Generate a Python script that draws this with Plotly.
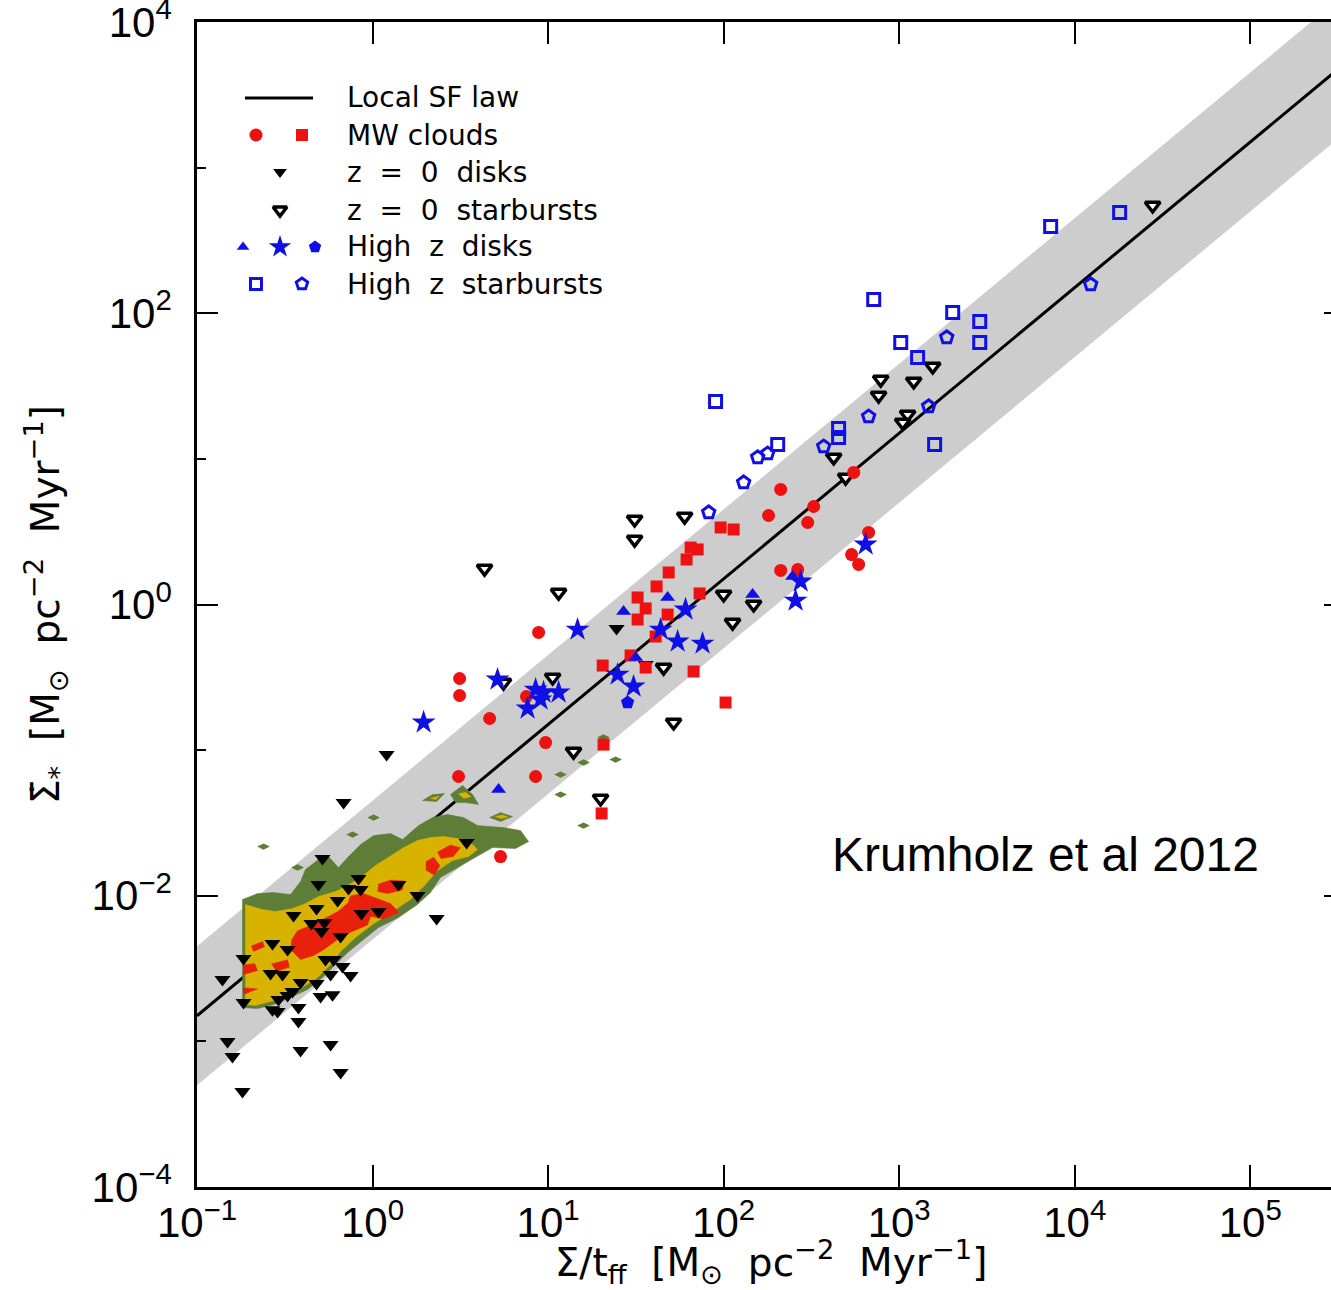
import plotly.graph_objects as go

# ---------------- data (log10 values) ----------------
# Local star-formation law: Sigma_SFR = eps_ff * Sigma / t_ff, band = factor 3
EPS_FF = 0.015
BAND_FACTOR = 3.0
LAW_X = [0.1, 10 ** 5.7]

# z = 0 disks (filled black down-triangles)
Z0D_LX = [-0.165, 0.080, -0.285, 0.536, -0.308, -0.080, -0.068, -0.137, -0.199, 0.148,
          0.256, -0.319, -0.450, -0.063, 0.034, -0.348, -0.274, -0.291, 0.365, -0.182,
          -0.570, -0.484, -0.735, -0.268, -0.222, -0.171, -0.125, -0.581, -0.513, -0.239,
          -0.855, -0.319, -0.410, -0.456, -0.484, -0.536, -0.296, -0.228, -0.735, -0.570,
          -0.541, -0.422, -0.422, -0.826, -0.798, -0.410, -0.239, -0.182, -0.741, 1.390, 1.556]
Z0D_LY = [-1.360, -1.030, -1.744, -1.635, -1.923, -1.882, -1.957, -1.950, -2.033, -1.923,
          -1.999, -2.088, -2.136, -2.122, -2.108, -2.191, -2.184, -2.246, -2.157, -2.280,
          -2.328, -2.369, -2.431, -2.438, -2.438, -2.486, -2.548, -2.534, -2.541, -2.541,
          -2.575, -2.603, -2.596, -2.658, -2.685, -2.713, -2.692, -2.679, -2.733, -2.782,
          -2.795, -2.768, -2.864, -3.001, -3.104, -3.063, -3.022, -3.214, -3.345, -0.165, -0.412]

# z = 0 starbursts (open black down-triangles)
Z0S_LX = [0.638, 1.060, 1.026, 0.746, 1.145, 1.299, 1.493, 1.493, 1.778, 1.658, 1.715, 2.000,
          2.171, 2.051, 2.627, 2.695, 2.895, 2.883, 3.083, 3.191, 3.048, 3.020, 4.444]
Z0S_LY = [0.247, 0.082, -0.501, -0.536, -1.010, -1.332, 0.584, 0.446, 0.604, -0.433, -0.810, 0.069,
          0.000, -0.124, 1.010, 0.872, 1.545, 1.435, 1.532, 1.635, 1.305, 1.250, 2.740]

# MW clouds: squares and circles
MWS_LX = [1.983, 2.057, 1.812, 1.852, 1.789, 1.687, 1.618, 1.510, 1.556, 1.510, 1.681, 1.863,
          1.613, 1.470, 1.311, 1.556, 1.829, 2.011, 1.316, 1.305]
MWS_LY = [0.529, 0.515, 0.391, 0.378, 0.309, 0.220, 0.124, 0.048, -0.027, -0.103, -0.069, 0.076,
          -0.220, -0.350, -0.419, -0.433, -0.460, -0.673, -0.962, -1.435]
MWC_LX = [0.496, 0.496, 0.667, 0.877, 0.946, 0.986, 0.490, 0.929, 0.729, 2.325, 2.256, 2.513,
          2.479, 2.741, 2.325, 2.422, 2.729, 2.769, 2.826]
MWC_LY = [-0.508, -0.625, -0.783, -0.632, -0.192, -0.948, -1.181, -1.181, -1.731, 0.790, 0.611,
          0.673, 0.563, 0.907, 0.234, 0.240, 0.343, 0.275, 0.495]

# High-z disks: triangles, stars, pentagon
HZT_LX = [1.430, 1.681, 1.499, 2.165, 2.393, 0.718]
HZT_LY = [-0.048, 0.048, -0.364, 0.069, 0.192, -1.271]
HZSTAR_LX = [1.168, 1.783, 1.641, 1.738, 1.880, 1.396, 1.487, 0.712, 0.974, 1.060, 0.957, 0.929,
             0.883, 0.291, 2.439, 2.410, 2.809]
HZSTAR_LY = [-0.172, -0.034, -0.172, -0.254, -0.268, -0.481, -0.563, -0.515, -0.604, -0.604,
             -0.652, -0.584, -0.714, -0.810, 0.158, 0.027, 0.412]
HZP_LX = [1.453]
HZP_LY = [-0.673]

# High-z starbursts: open squares and open pentagons
HSBS_LX = [3.863, 4.256, 2.855, 3.305, 3.459, 3.459, 3.009, 3.105, 1.954, 2.308, 2.655, 2.655, 3.202]
HSBS_LY = [2.596, 2.692, 2.095, 2.005, 1.944, 1.799, 1.799, 1.696, 1.394, 1.099, 1.209, 1.147, 1.099]
HSBP_LX = [4.091, 3.271, 3.168, 2.826, 2.570, 2.251, 2.194, 2.114, 1.915]
HSBP_LY = [2.198, 1.834, 1.360, 1.291, 1.085, 1.037, 1.010, 0.838, 0.632]

# THINGS pixel-density contours (log10 x, log10 y vertices)
GREEN_MAIN = [(-0.741, -2.768), (-0.741, -2.026), (-0.655, -1.985), (-0.564, -1.978), (-0.467, -1.992),
              (-0.410, -1.902), (-0.382, -1.820), (-0.308, -1.751), (-0.251, -1.731), (-0.194, -1.806),
              (-0.142, -1.738), (-0.068, -1.648), (0.006, -1.587), (0.103, -1.573), (0.171, -1.614),
              (0.262, -1.518), (0.342, -1.463), (0.427, -1.442), (0.519, -1.463), (0.598, -1.518),
              (0.672, -1.525), (0.746, -1.532), (0.843, -1.552), (0.889, -1.628), (0.815, -1.676),
              (0.684, -1.669), (0.604, -1.724), (0.501, -1.793), (0.387, -1.875), (0.330, -1.978),
              (0.256, -2.060), (0.148, -2.150), (0.034, -2.218), (-0.051, -2.301), (-0.142, -2.390),
              (-0.222, -2.486), (-0.285, -2.562), (-0.370, -2.644), (-0.467, -2.699), (-0.564, -2.747),
              (-0.655, -2.775)]
GREEN_BLOBS = [
    [(0.285, -1.346), (0.342, -1.305), (0.410, -1.298), (0.365, -1.353)],
    [(0.444, -1.305), (0.513, -1.243), (0.570, -1.305), (0.604, -1.374), (0.530, -1.360), (0.473, -1.360)],
    [(0.667, -1.463), (0.729, -1.429), (0.798, -1.456), (0.729, -1.490)],
]
GREEN_DOTS_LX = [0.006, -0.114, -0.427, 1.071, 1.071, 1.202, 1.385, 1.202, 1.316, -0.621]
GREEN_DOTS_LY = [-1.463, -1.580, -1.806, -1.168, -1.305, -1.085, -1.065, -1.518, -0.913, -1.662]

YELLOW_MAIN = [(-0.724, -2.747), (-0.724, -2.060), (-0.627, -2.095), (-0.553, -2.108), (-0.456, -2.088),
               (-0.382, -2.054), (-0.308, -2.005), (-0.211, -1.971), (-0.142, -1.930), (-0.068, -1.875),
               (0.017, -1.793), (0.103, -1.724), (0.177, -1.669), (0.256, -1.621), (0.330, -1.600),
               (0.405, -1.593), (0.484, -1.607), (0.558, -1.635), (0.598, -1.683), (0.547, -1.731),
               (0.456, -1.758), (0.370, -1.827), (0.291, -1.937), (0.217, -2.026), (0.103, -2.115),
               (0.000, -2.198), (-0.097, -2.287), (-0.182, -2.383), (-0.239, -2.472), (-0.313, -2.562),
               (-0.399, -2.630), (-0.484, -2.685), (-0.581, -2.727), (-0.667, -2.754)]
YELLOW_BLOBS = [
    [(0.330, -1.330), (0.380, -1.315), (0.360, -1.340)],
    [(0.490, -1.300), (0.530, -1.290), (0.560, -1.320), (0.520, -1.330)],
    [(0.700, -1.455), (0.740, -1.445), (0.770, -1.460), (0.730, -1.470)],
]

RED_POLYS = [
    [(-0.460, -2.301), (-0.427, -2.240), (-0.353, -2.205), (-0.279, -2.160), (-0.199, -2.110),
     (-0.140, -2.050), (-0.125, -2.000), (-0.051, -1.985), (0.028, -2.020), (0.103, -2.054),
     (0.150, -2.115), (0.063, -2.160), (-0.011, -2.140), (-0.028, -2.200), (-0.125, -2.250),
     (-0.199, -2.300), (-0.279, -2.370), (-0.336, -2.410), (-0.410, -2.438), (-0.466, -2.370)],
    [(0.034, -1.920), (0.103, -1.892), (0.180, -1.899), (0.170, -1.960), (0.085, -1.985), (0.030, -1.970)],
    [(0.305, -1.765), (0.348, -1.735), (0.384, -1.793), (0.352, -1.858), (0.305, -1.825)],
    [(0.370, -1.700), (0.444, -1.652), (0.500, -1.670), (0.460, -1.730), (0.390, -1.745)],
    [(-0.690, -2.345), (-0.627, -2.315), (-0.615, -2.350), (-0.678, -2.382)],
    [(-0.735, -2.475), (-0.672, -2.466), (-0.655, -2.514), (-0.735, -2.540)],
    [(-0.575, -2.468), (-0.484, -2.440), (-0.474, -2.490), (-0.547, -2.520)],
    [(-0.735, -2.632), (-0.655, -2.640), (-0.735, -2.678)],
]

X_TICKS = [1e-1, 1e0, 1e1, 1e2, 1e3, 1e4, 1e5]
X_TICKTEXT = ["10<sup>−1</sup>", "10<sup>0</sup>", "10<sup>1</sup>", "10<sup>2</sup>",
              "10<sup>3</sup>", "10<sup>4</sup>", "10<sup>5</sup>"]
Y_TICKS = [1e-4, 1e-2, 1e0, 1e2, 1e4]
Y_TICKTEXT = ["10<sup>−4</sup>", "10<sup>−2</sup>", "10<sup>0</sup>", "10<sup>2</sup>", "10<sup>4</sup>"]
Y_MINOR = [1e-3, 1e-1, 1e1, 1e3]

# ---------------- styling ----------------
RED = "#ee1111"
BLUE = "#1010e6"
GREEN = "#5e7d37"
YELLOW = "#d7b300"
RED_C = "#e8200c"
GRAY = "#cdcdcd"
TICK_FONT = dict(family="Liberation Sans", size=42, color="black")
TITLE_FONT = dict(family="DejaVu Sans", size=39, color="black")
LEG_FONT = dict(family="DejaVu Sans", size=28, color="black")

# The figure is a little wider than the window; the page clips its right edge
# (as in the reference, where the right axis lies just outside the picture).
FIG_W, FIG_H = 1345, 1290
M_L, M_T, M_B = 197, 22, 103
PLOT_W = FIG_W - M_L
X_MAX_LOG = -1 + PLOT_W / (1134 / 6.46)


def lin(vals):
    return [10 ** v for v in vals]


def poly(pts, color):
    xs = [10 ** p[0] for p in pts] + [10 ** pts[0][0]]
    ys = [10 ** p[1] for p in pts] + [10 ** pts[0][1]]
    return go.Scatter(x=xs, y=ys, mode="lines", fill="toself", fillcolor=color,
                      line=dict(width=0.5, color=color), hoverinfo="skip", showlegend=False)


fig = go.Figure()

# gray band around the law
bx = LAW_X + LAW_X[::-1]
by = [EPS_FF * BAND_FACTOR * x for x in LAW_X] + [EPS_FF / BAND_FACTOR * x for x in LAW_X[::-1]]
fig.add_trace(go.Scatter(x=bx, y=by, mode="lines", fill="toself", fillcolor=GRAY,
                         line=dict(width=0), hoverinfo="skip"))
# local SF law line
fig.add_trace(go.Scatter(x=LAW_X, y=[EPS_FF * x for x in LAW_X], mode="lines",
                         line=dict(color="black", width=3)))

# contours
fig.add_trace(poly(GREEN_MAIN, GREEN))
for b in GREEN_BLOBS:
    fig.add_trace(poly(b, GREEN))
fig.add_trace(go.Scatter(x=lin(GREEN_DOTS_LX), y=lin(GREEN_DOTS_LY), mode="markers",
                         marker=dict(symbol="diamond-wide", size=9, color=GREEN)))
fig.add_trace(poly(YELLOW_MAIN, YELLOW))
for b in YELLOW_BLOBS:
    fig.add_trace(poly(b, YELLOW))
for p in RED_POLYS:
    fig.add_trace(poly(p, RED_C))

# data points
fig.add_trace(go.Scatter(x=lin(Z0D_LX), y=lin(Z0D_LY), mode="markers",
                         marker=dict(symbol="triangle-down", size=14, color="black")))
fig.add_trace(go.Scatter(x=lin(Z0S_LX), y=lin(Z0S_LY), mode="markers",
                         marker=dict(symbol="triangle-down", size=13, color="white",
                                     line=dict(color="black", width=3.5))))
fig.add_trace(go.Scatter(x=lin(MWS_LX), y=lin(MWS_LY), mode="markers",
                         marker=dict(symbol="square", size=12, color=RED)))
fig.add_trace(go.Scatter(x=lin(MWC_LX), y=lin(MWC_LY), mode="markers",
                         marker=dict(symbol="circle", size=13, color=RED)))
fig.add_trace(go.Scatter(x=lin(HZT_LX), y=lin(HZT_LY), mode="markers",
                         marker=dict(symbol="triangle-up", size=13, color=BLUE)))
fig.add_trace(go.Scatter(x=lin(HZSTAR_LX), y=lin(HZSTAR_LY), mode="markers",
                         marker=dict(symbol="star", size=18, color=BLUE)))
fig.add_trace(go.Scatter(x=lin(HZP_LX), y=lin(HZP_LY), mode="markers",
                         marker=dict(symbol="pentagon", size=14, color=BLUE)))
fig.add_trace(go.Scatter(x=lin(HSBS_LX), y=lin(HSBS_LY), mode="markers",
                         marker=dict(symbol="square-open", size=12, color=BLUE,
                                     line=dict(color=BLUE, width=3))))
fig.add_trace(go.Scatter(x=lin(HSBP_LX), y=lin(HSBP_LY), mode="markers",
                         marker=dict(symbol="pentagon-open", size=13, color=BLUE,
                                     line=dict(color=BLUE, width=3))))

# ---------------- custom legend (axes x2/y2: 0..1 spans the visible plot area) ----------------
ROWS = [0.9348, 0.9030, 0.8712, 0.8386, 0.8069, 0.7751]
LEG_LABELS = ["Local SF law", "MW clouds", "z  =  0  disks", "z  =  0  starbursts",
              "High  z  disks", "High  z  starbursts"]
VIS = 1134 / PLOT_W   # fraction of the plot width that is visible in the window
leg = dict(xaxis="x2", yaxis="y2", hoverinfo="skip")
fig.add_trace(go.Scatter(x=[0.0423, 0.1023], y=[ROWS[0]] * 2, mode="lines",
                         line=dict(color="black", width=3), **leg))
fig.add_trace(go.Scatter(x=[0.0520], y=[ROWS[1]], mode="markers",
                         marker=dict(symbol="circle", size=13, color=RED), **leg))
fig.add_trace(go.Scatter(x=[0.0926], y=[ROWS[1]], mode="markers",
                         marker=dict(symbol="square", size=12, color=RED), **leg))
fig.add_trace(go.Scatter(x=[0.0732], y=[ROWS[2]], mode="markers",
                         marker=dict(symbol="triangle-down", size=12, color="black"), **leg))
fig.add_trace(go.Scatter(x=[0.0732], y=[ROWS[3]], mode="markers",
                         marker=dict(symbol="triangle-down", size=12, color="white",
                                     line=dict(color="black", width=3.5)), **leg))
fig.add_trace(go.Scatter(x=[0.0406], y=[ROWS[4]], mode="markers",
                         marker=dict(symbol="triangle-up", size=11, color=BLUE), **leg))
fig.add_trace(go.Scatter(x=[0.0732], y=[ROWS[4]], mode="markers",
                         marker=dict(symbol="star", size=17, color=BLUE), **leg))
fig.add_trace(go.Scatter(x=[0.1041], y=[ROWS[4]], mode="markers",
                         marker=dict(symbol="pentagon", size=13, color=BLUE), **leg))
fig.add_trace(go.Scatter(x=[0.0520], y=[ROWS[5]], mode="markers",
                         marker=dict(symbol="square-open", size=11, color=BLUE,
                                     line=dict(color=BLUE, width=3)), **leg))
fig.add_trace(go.Scatter(x=[0.0926], y=[ROWS[5]], mode="markers",
                         marker=dict(symbol="pentagon-open", size=12, color=BLUE,
                                     line=dict(color=BLUE, width=3)), **leg))

annotations = []
for r, t in zip(ROWS, LEG_LABELS):
    annotations.append(dict(x=0.1305 * VIS, y=r, xref="paper", yref="paper", text=t, showarrow=False,
                            xanchor="left", yanchor="middle", font=LEG_FONT))
annotations.append(dict(x=0.558 * VIS, y=0.285, xref="paper", yref="paper", text="Krumholz et al 2012",
                        showarrow=False, xanchor="left", yanchor="middle",
                        font=dict(family="Liberation Sans", size=48, color="black")))

fig.update_layout(
    width=FIG_W, height=FIG_H,
    margin=dict(l=M_L, r=0, t=M_T, b=M_B, autoexpand=False),
    plot_bgcolor="white", paper_bgcolor="white",
    showlegend=False,
    annotations=annotations,
    xaxis=dict(type="log", range=[-1, X_MAX_LOG], showgrid=False, zeroline=False,
               showline=True, linecolor="black", linewidth=2.5, mirror="allticks",
               ticks="inside", ticklen=22, tickwidth=2, tickcolor="black",
               tickmode="array", tickvals=X_TICKS, ticktext=X_TICKTEXT,
               tickfont=TICK_FONT, ticklabelstandoff=-3, ticklabeloverflow="allow",
               title=dict(text="Σ/t<sub>ff</sub>  [M<sub>⊙</sub>  pc<sup>−2</sup>  Myr<sup>−1</sup>]",
                          font=TITLE_FONT, standoff=5)),
    yaxis=dict(type="log", range=[-4, 4], showgrid=False, zeroline=False,
               showline=True, linecolor="black", linewidth=2.5, mirror="allticks",
               ticks="inside", ticklen=21, tickwidth=2, tickcolor="black",
               tickmode="array", tickvals=Y_TICKS, ticktext=Y_TICKTEXT,
               tickfont=TICK_FONT, ticklabelstandoff=14, ticklabeloverflow="allow",
               minor=dict(tickmode="array", tickvals=Y_MINOR, ticks="inside", ticklen=9,
                          tickwidth=2, tickcolor="black", showgrid=False),
               title=dict(text="Σ̇<sub>*</sub>  [M<sub>⊙</sub>  pc<sup>−2</sup>  Myr<sup>−1</sup>]",
                          font=TITLE_FONT, standoff=20)),
    xaxis2=dict(overlaying="x", anchor="y2", range=[0, 1 / VIS], visible=False),
    yaxis2=dict(overlaying="y", anchor="x2", range=[0, 1], visible=False),
)

# remove the browser's default 8 px page margin so the figure fills the window exactly
fig.write_html("out.html", config={"displayModeBar": False},
               post_script="document.body.style.margin='0';document.body.style.overflow='hidden';")
